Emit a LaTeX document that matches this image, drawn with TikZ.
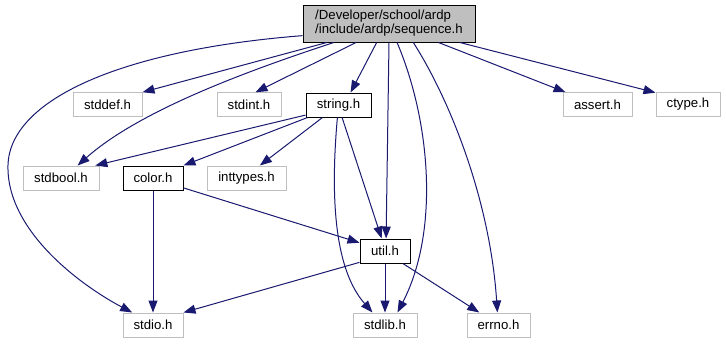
\documentclass[tikz,border=0pt]{standalone}
\usepackage{fontspec}
\setmainfont{Liberation Sans}
\usetikzlibrary{arrows.meta}

\definecolor{edgeblue}{RGB}{25,25,112}
\definecolor{boxgrey}{RGB}{191,191,191}

\tikzset{
  hdr/.style={draw=boxgrey, line width=1pt, fill=white, inner sep=0pt,
    minimum height=23.5pt, font=\fontsize{13.2}{14}\selectfont},
  localhdr/.style={hdr, draw=black},
  inc/.style={draw=edgeblue, line width=1pt, -{Triangle[length=12pt,width=9pt]}}
}

\begin{document}
\begin{tikzpicture}[x=1pt, y=-1pt]
\useasboundingbox (0,0) rectangle (726,343);

% the header that is documented
\node[localhdr, fill=boxgrey, minimum width=172pt, minimum height=37pt, align=left] (seq) at (389,23.5) {/Developer/school/ardp\\/include/ardp/sequence.h};

% first row of includes
\node[hdr, minimum width=69pt] (stddef) at (107.5,104.5) {stddef.h};
\node[hdr, minimum width=64pt] (stdint) at (249,104.5) {stdint.h};
\node[localhdr, minimum width=65pt, minimum height=24pt] (string) at (338.5,105) {string.h};
\node[hdr, minimum width=69pt] (assert) at (597.5,104.5) {assert.h};
\node[hdr, minimum width=64pt] (ctype) at (688,104.5) {ctype.h};

% second row
\node[hdr, minimum width=76pt, minimum height=24pt] (stdbool) at (61,178) {stdbool.h};
\node[localhdr, minimum width=60pt, minimum height=24pt] (color) at (153,178) {color.h};
\node[hdr, minimum width=79pt, minimum height=24pt] (inttypes) at (246.5,178) {inttypes.h};

% third row
\node[localhdr, minimum width=50pt, minimum height=24pt] (util) at (385,251) {util.h};

% bottom row
\node[hdr, minimum width=60pt, minimum height=24pt] (stdio) at (153,325) {stdio.h};
\node[hdr, minimum width=64pt, minimum height=24pt] (stdlib) at (385,325) {stdlib.h};
\node[hdr, minimum width=63pt, minimum height=24pt] (errno) at (498.5,325) {errno.h};

% includes of sequence.h
\draw[inc] (seq.188) .. controls (120,50) and (10,100) .. (8,165)
  .. controls (6,230) and (80,285) .. (stdio.149);
\draw[inc] (seq.197) -- (stddef.north east);
\draw[inc] (seq.199) .. controls (250,70) and (140,110) .. (stdbool.37);
\draw[inc] (seq.210) -- (stdint.62);
\draw[inc] (seq.237) -- (string.46);
\draw[inc] (seq.south) -- (util.85);
\draw[inc] (seq.293) .. controls (430,120) and (440,230) .. (stdlib.45);
\draw[inc] (seq.322) .. controls (450,100) and (490,200) .. (errno.95);
\draw[inc] (seq.339) -- (assert.159);
\draw[inc] (seq.345) -- (ctype.160);

% includes of string.h
\draw[inc] (string.197) -- (stdbool.20);
\draw[inc] (string.202) -- (color.north east);
\draw[inc] (string.218) -- (inttypes.43);
\draw[inc] (string.286) -- (util.105);
\draw[inc] (string.265) .. controls (330,200) and (335,270) .. (stdlib.135);

% includes of color.h
\draw[inc] (color.south) -- (stdio.north);
\draw[inc] (color.342) -- (util.162);

% includes of util.h
\draw[inc] (util.204) -- (stdio.north east);
\draw[inc] (util.south) -- (stdlib.north);
\draw[inc] (util.325) -- (errno.147);
\end{tikzpicture}
\end{document}
